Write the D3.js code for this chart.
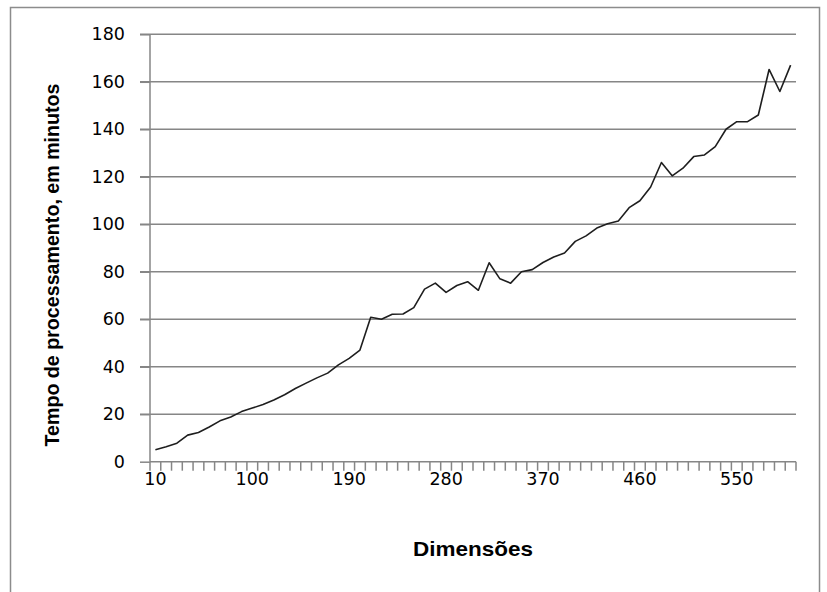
<!DOCTYPE html>
<meta charset="utf-8">
<style>
  body { margin: 0; background: #fff; }
  .tick text { font-family: "DejaVu Sans", sans-serif; font-size: 17.5px; fill: #000; }
  .title { font-family: "Liberation Sans Narrow", "Liberation Sans", Arial, sans-serif; font-weight: bold; font-size: 21px; fill: #000; }
  .grid line { stroke: #868686; stroke-width: 1.5; }
</style>
<svg width="827" height="592"></svg>
<script src="https://d3js.org/d3.v7.min.js"></script>
<script>
var dims = [10, 20, 30, 40, 50, 60, 70, 80, 90, 100,
            110, 120, 130, 140, 150, 160, 170, 180, 190, 200,
            210, 220, 230, 240, 250, 260, 270, 280, 290, 300,
            310, 320, 330, 340, 350, 360, 370, 380, 390, 400,
            410, 420, 430, 440, 450, 460, 470, 480, 490, 500,
            510, 520, 530, 540, 550, 560, 570, 580, 590, 600];

// tempo em minutos
var tempo = [5, 6.3, 7.8, 11.2, 12.3, 14.6, 17.2, 18.8, 21.1, 22.6,
             24.1, 26, 28.2, 30.8, 33.1, 35.3, 37.3, 40.8, 43.5, 47,
             60.8, 60, 62.1, 62.2, 64.9, 72.7, 75.2, 71.3, 74.2, 75.8,
             72.2, 83.8, 77, 75.2, 80, 80.9, 83.9, 86.2, 87.9, 92.8,
             95.1, 98.4, 100.2, 101.4, 107, 109.9, 115.7, 126, 120.4, 123.6,
             128.5, 129.2, 132.7, 140, 143.2, 143.2, 146, 165.2, 155.9, 167];

var xLabels = [10, 100, 190, 280, 370, 460, 550];
var yTicks = [0, 20, 40, 60, 80, 100, 120, 140, 160, 180];

var svg = d3.select("svg");

// moldura do grafico
svg.append("rect")
    .attr("x", 10.5).attr("y", 7.5)
    .attr("width", 809).attr("height", 600)
    .attr("fill", "none")
    .attr("stroke", "#8c8c8c")
    .attr("stroke-width", 1.5);

var pLeft = 150, pRight = 796, pTop = 34.3, pBottom = 461.7;

var x = d3.scaleBand().domain(dims).range([pLeft, pRight]);
var y = d3.scaleLinear().domain([0, 180]).range([pBottom, pTop]);

// grade horizontal
svg.append("g")
    .attr("class", "grid")
    .selectAll("line")
    .data(yTicks.slice(1))
    .enter().append("line")
    .attr("x1", pLeft - 10).attr("x2", pRight)
    .attr("y1", function(d) { return y(d); })
    .attr("y2", function(d) { return y(d); });

// eixo y
var yAxis = svg.append("g")
    .attr("transform", "translate(" + pLeft + ",0)")
    .call(d3.axisLeft(y).tickValues(yTicks).tickSize(10).tickPadding(15));
yAxis.selectAll("line, path").attr("stroke", "#868686").attr("stroke-width", 1.5);
yAxis.select("path").attr("d", "M0," + pTop + "V" + pBottom);

// eixo x, marcas entre categorias
var xAxis = svg.append("g")
    .attr("transform", "translate(0," + pBottom + ")")
    .call(d3.axisBottom(x).tickValues(xLabels).tickSize(0).tickPadding(11));
xAxis.select("path").attr("d", "M" + pLeft + ",0H" + pRight)
    .attr("stroke", "#868686").attr("stroke-width", 1.5);

xAxis.selectAll(".sep")
    .data(dims.concat(["end"]))
    .enter().append("line")
    .attr("class", "sep")
    .attr("x1", function(d, i) { return pLeft + i * x.step(); })
    .attr("x2", function(d, i) { return pLeft + i * x.step(); })
    .attr("y1", 0).attr("y2", 9)
    .attr("stroke", "#868686").attr("stroke-width", 1.5);

// linha
var line = d3.line()
    .x(function(d, i) { return x(dims[i]) + x.bandwidth() / 2; })
    .y(function(d) { return y(d); });

svg.append("path")
    .datum(tempo)
    .attr("d", line)
    .attr("fill", "none")
    .attr("stroke", "#1e1e1e")
    .attr("stroke-width", 1.6)
    .attr("stroke-linejoin", "round");

// titulos
svg.append("text")
    .attr("class", "title")
    .attr("x", (pLeft + pRight) / 2).attr("y", 556)
    .attr("text-anchor", "middle")
    .attr("textLength", 120)
    .attr("lengthAdjust", "spacingAndGlyphs")
    .text("Dimensões");

svg.append("text")
    .attr("class", "title")
    .attr("transform", "translate(59,265) rotate(-90)")
    .attr("text-anchor", "middle")
    .attr("textLength", 363)
    .attr("lengthAdjust", "spacingAndGlyphs")
    .text("Tempo de processamento, em minutos");
</script>
